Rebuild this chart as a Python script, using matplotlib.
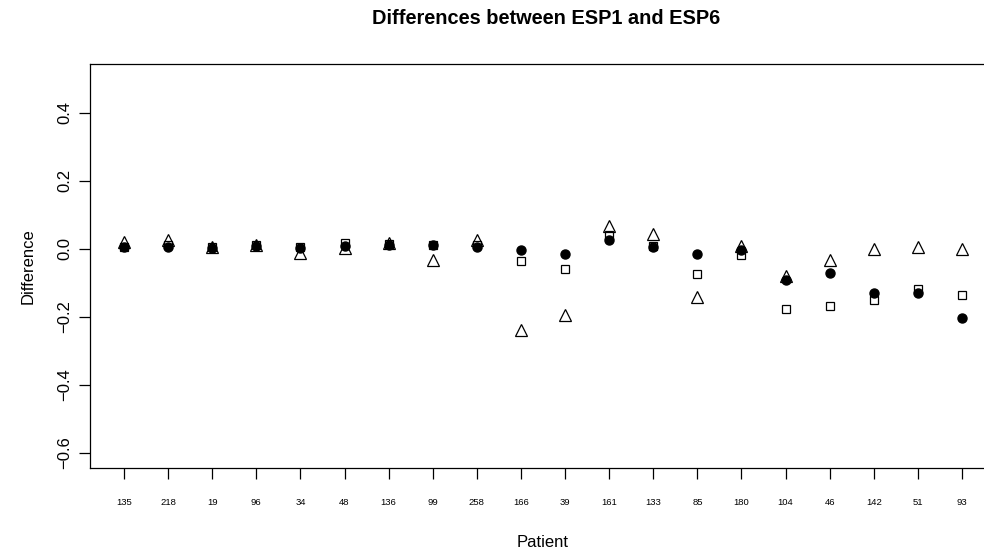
import matplotlib
matplotlib.use("Agg")
import matplotlib.pyplot as plt
import numpy as np

plt.rcParams["font.family"] = ["Liberation Sans", "DejaVu Sans"]

# 환자 ID (x축 순서)
patients = ["135", "218", "19", "96", "34", "48", "136", "99", "258", "166",
            "39", "161", "133", "85", "180", "104", "46", "142", "51", "93"]

# 세 가지 차이 값
diff_circle = [0.005, 0.005, 0.003, 0.008, 0.003, 0.008, 0.011, 0.010, 0.005, -0.004,
               -0.014, 0.025, 0.006, -0.014, -0.002, -0.092, -0.071, -0.129, -0.129, -0.202]
diff_square = [0.005, 0.010, 0.005, 0.010, 0.006, 0.016, 0.013, 0.010, 0.012, -0.036,
               -0.058, 0.040, 0.008, -0.074, -0.019, -0.176, -0.167, -0.151, -0.118, -0.137]
diff_triangle = [0.019, 0.027, 0.006, 0.012, -0.012, 0.003, 0.016, -0.034, 0.027, -0.240,
                 -0.196, 0.066, 0.045, -0.142, 0.008, -0.079, -0.034, 0.000, 0.005, 0.000]

x = np.arange(1, len(patients) + 1)

fig = plt.figure(figsize=(9.84, 5.51), dpi=100)
ax = fig.add_axes([90 / 984, 1 - 467.7 / 551, 906 / 984, (467.7 - 64) / 551])

ax.plot(x, diff_square, linestyle="none", marker="s", markersize=6,
        markerfacecolor="white", markeredgecolor="black", markeredgewidth=0.9)
ax.plot(x, diff_triangle, linestyle="none", marker="^", markersize=8,
        markerfacecolor="none", markeredgecolor="black", markeredgewidth=0.9)
ax.plot(x, diff_circle, linestyle="none", marker="o", markersize=6.5,
        color="black")

ax.set_xlim(1 - 0.77, 20 + 0.77)
ax.set_ylim(-0.644, 0.544)

ax.set_xticks(x)
ax.set_xticklabels(patients, fontsize=6.8)
ax.set_yticks([-0.6, -0.4, -0.2, 0.0, 0.2, 0.4])
ax.set_yticklabels(["\u22120.6", "\u22120.4", "\u22120.2", "0.0", "0.2", "0.4"],
                   rotation=90, va="center", fontsize=12)
ax.tick_params(axis="x", length=8, width=0.9, pad=14)
ax.tick_params(axis="y", length=8, width=0.9, pad=5)
for s in ax.spines.values():
    s.set_linewidth(0.9)

ax.set_xlabel("Patient", fontsize=12, labelpad=20)
ax.set_ylabel("Difference", fontsize=12, labelpad=15)
fig.text(546 / 984, 1 - 18 / 551, "Differences between ESP1 and ESP6",
         ha="center", va="center", fontsize=14.4, fontweight="bold")

fig.savefig("out.png", dpi=100)
